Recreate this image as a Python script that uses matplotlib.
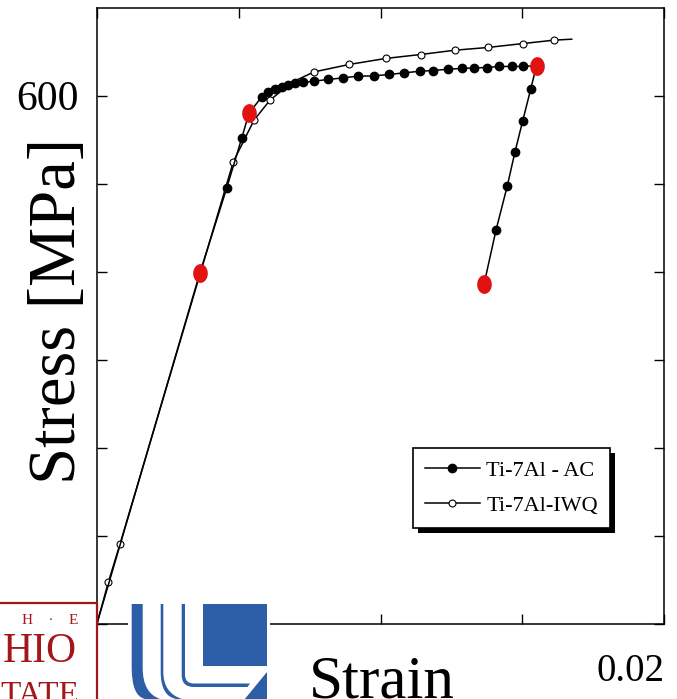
import matplotlib
matplotlib.use("Agg")
import matplotlib.pyplot as plt
from matplotlib.path import Path
from matplotlib.patches import Rectangle, PathPatch, Polygon
from matplotlib.transforms import Affine2D
import numpy as np

# ---------------- data ----------------
ac_strain = [0.0, 0.003633, 0.004575, 0.005104, 0.005362, 0.005810, 0.006032,
             0.006279, 0.006515, 0.006737, 0.006984, 0.007266, 0.007654,
             0.008148, 0.008667, 0.009206, 0.009771, 0.010300, 0.010829,
             0.011393, 0.011852, 0.012381, 0.012864, 0.013298, 0.013746,
             0.014180, 0.014628, 0.015026, 0.015503, 0.015298, 0.015016,
             0.014744, 0.014473, 0.014074, 0.013651]
ac_stress = [0.0, 398.9, 494.9, 551.7, 580.1, 598.6, 604.3, 607.4, 610.0,
             611.9, 613.9, 615.0, 616.5, 618.4, 620.2, 622.2, 622.5, 624.1,
             625.9, 627.8, 628.6, 630.1, 630.9, 631.6, 632.0, 633.2, 633.2,
             633.2, 634.1, 607.4, 571.4, 536.1, 497.5, 447.2, 385.5]

iwq_strain = [0.0, 0.000399, 0.000811, 0.004808, 0.005538, 0.006102, 0.006878,
              0.007654, 0.008899, 0.010183, 0.011418, 0.012628, 0.013792,
              0.015037, 0.016120, 0.016744]
iwq_stress = [0.0, 46.8, 90.3, 524.8, 572.2, 594.9, 615.3, 627.0, 635.5,
              642.3, 646.8, 651.7, 654.8, 659.3, 663.1, 664.2]
iwq_marked = [1, 2, 3, 4, 5, 7, 8, 9, 10, 11, 12, 13, 14]

red_strain = [0.003633, 0.005362, 0.015503, 0.013651]
red_stress = [398.9, 580.1, 634.1, 385.5]

series_labels = ["Ti-7Al - AC", "Ti-7Al-IWQ"]
x_ticks = [0.0, 0.005, 0.010, 0.015, 0.020]
x_tick_labels = ["", "", "", "", "0.02"]
y_ticks = [0, 100, 200, 300, 400, 500, 600]
y_tick_labels = ["", "", "", "", "", "", "600"]

# ---------------- figure ----------------
W, H = 677, 699
fig = plt.figure(figsize=(W / 100, H / 100), dpi=100)
serif = "Liberation Serif"
plt.rcParams["font.family"] = [serif, "DejaVu Serif"]

ax = fig.add_axes([97 / W, (H - 623.5) / H, 567 / W, 615.8 / H])
ax.set_xlim(0, 0.02)
ax.set_ylim(0, 700)

lac, = ax.plot(ac_strain, ac_stress, color="black", lw=1.1, marker="o",
               ms=6, mfc="black", mec="black", markevery=slice(1, None),
               label=series_labels[0], zorder=3)
liwq, = ax.plot(iwq_strain, iwq_stress, color="black", lw=1.1, marker="o",
                ms=5, mfc="white", mec="black", mew=0.8,
                markevery=iwq_marked, label=series_labels[1], zorder=2)

# elliptical red markers
t = np.linspace(0, 2 * np.pi, 60)
ell = Path(np.column_stack([0.38 * np.cos(t), 0.5 * np.sin(t)]))
ax.plot(red_strain, red_stress, linestyle="none", marker=ell, ms=12.5,
        mfc="#E01212", mec="#E01212", zorder=5)

ax.set_xticks(x_ticks)
ax.set_xticklabels(x_tick_labels, fontsize=28, ha="right")
ax.set_yticks(y_ticks)
ax.set_yticklabels(y_tick_labels, fontsize=30)
ax.tick_params(direction="in", length=7, width=1, top=True, right=True,
               color="black")
ax.tick_params(axis="x", pad=21)
ax.tick_params(axis="y", pad=13.5)
for s in ax.spines.values():
    s.set_linewidth(1.1)
    s.set_color("black")

leg = ax.legend(handles=[lac, liwq], loc="upper left",
                bbox_to_anchor=((413 - 97) / 567, (623.5 - 448) / 615.8),
                borderaxespad=0, fontsize=16, frameon=True, fancybox=False,
                edgecolor="black", framealpha=1, borderpad=0.55,
                labelspacing=0.65, handlelength=2.45, handletextpad=0.3,
                numpoints=1, markerscale=1.0)
leg.get_frame().set_linewidth(1.2)
leg.set_zorder(10)

# shadow of legend
fig.canvas.draw()
bb = leg.get_frame().get_window_extent(fig.canvas.get_renderer())
shadow = Rectangle((bb.x0 + 5, bb.y0 - 5), bb.width, bb.height,
                   transform=None, facecolor="black", edgecolor="none",
                   zorder=9)
ax.add_artist(shadow)

# axis titles
fig.text(75 / W, (H - 311) / H, "Stress [MPa]", rotation=90,
         rotation_mode="anchor", ha="center", va="baseline", fontsize=48)
fig.text(382 / W, 2 / H, "Strain", ha="center", va="baseline", fontsize=44)

# ---------------- logos (pixel coordinates, y from top) ----------------
pix = Affine2D().scale(1 / W, -1 / H).translate(0, 1) + fig.transFigure
osu = "#A3161A"
box = Rectangle((-3, 603), 99.5, 100, transform=pix, facecolor="white",
                edgecolor=osu, lw=1.6, zorder=20)
fig.add_artist(box)
fig.text(50 / W, 1 - 621 / H, "H    ·    E", ha="center", va="center",
         fontsize=11, color=osu, zorder=21)
fig.text(3 / W, 1 - 662 / H, "HIO", ha="left", va="baseline",
         fontsize=30, color=osu, zorder=21)
fig.text(0 / W, 1 - 704 / H, "TATE", ha="left", va="baseline",
         fontsize=24, color=osu, zorder=21)

blue = "#2B5EA6"
fig.add_artist(Rectangle((128, 602), 142, 100, transform=pix,
                         facecolor="white", edgecolor="none", zorder=20))

def bar_path(x0, x1, ytop, ybend, xend_out, xend_in, ybot):
    verts = [(x0, ytop), (x1, ytop), (x1, ybend), (x1, ybot - 6),
             (xend_out, ybot), (xend_in, ybot), (x0, ybot - 3),
             (x0, ybend), (x0, ytop)]
    codes = [Path.MOVETO, Path.LINETO, Path.LINETO, Path.CURVE3, Path.CURVE3,
             Path.LINETO, Path.CURVE3, Path.CURVE3, Path.CLOSEPOLY]
    return Path(verts, codes)

fig.add_artist(PathPatch(bar_path(131.7, 142.7, 604, 668, 160, 145, 699),
                         transform=pix, facecolor=blue, edgecolor="none",
                         zorder=21))
fig.add_artist(PathPatch(bar_path(160.7, 163.3, 604, 672, 182, 176, 699),
                         transform=pix, facecolor=blue, edgecolor="none",
                         zorder=21))
v2 = [(181.7, 604), (185, 604), (185, 675), (185, 683.5), (194, 683.5),
      (250, 683.5), (247.5, 687), (194, 687), (181.7, 687), (181.7, 675),
      (181.7, 604)]
c2 = [Path.MOVETO, Path.LINETO, Path.LINETO, Path.CURVE3, Path.CURVE3,
      Path.LINETO, Path.LINETO, Path.LINETO, Path.CURVE3, Path.CURVE3,
      Path.CLOSEPOLY]
fig.add_artist(PathPatch(Path(v2, c2), transform=pix, facecolor=blue,
                         edgecolor="none", zorder=21))
fig.add_artist(Rectangle((203.3, 604), 63.4, 62, transform=pix,
                         facecolor=blue, edgecolor="none", zorder=21))
fig.add_artist(Polygon([(266.7, 671.7), (266.7, 700), (244, 700)],
                       closed=True, transform=pix, facecolor=blue,
                       edgecolor="none", zorder=21))

fig.savefig("out.png", dpi=100)
